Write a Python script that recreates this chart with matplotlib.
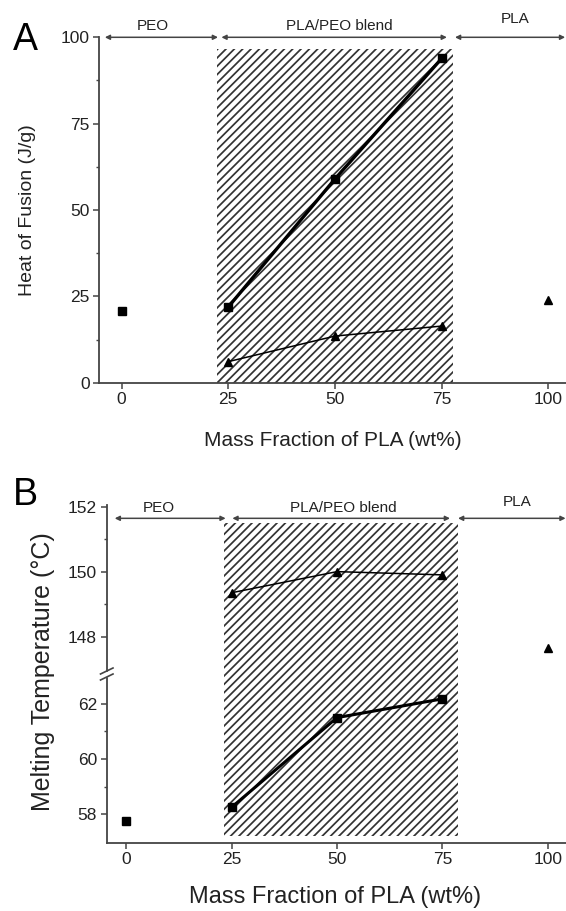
import matplotlib
matplotlib.use('Agg')
import matplotlib.pyplot as plt
from matplotlib.patches import Rectangle
from matplotlib.ticker import MultipleLocator, FixedLocator

plt.rcParams['font.family'] = ['Liberation Sans', 'DejaVu Sans']
plt.rcParams['hatch.linewidth'] = 1.25

# ---------------- data ----------------
region_labels = ['PEO', 'PLA/PEO blend', 'PLA']
xticks = [0, 25, 50, 75, 100]

# Panel A: heat of fusion (J/g)
A_sq_x = [0, 25, 50, 75]
A_sq_y = [20.7, 21.9, 59.0, 93.9]
A_tri_x = [25, 50, 75, 100]
A_tri_y = [6.1, 13.5, 16.4, 23.9]
A_yticks = [0, 25, 50, 75, 100]

# Panel B: melting temperature (degC)
B_tri_x = [25, 50, 75, 100]
B_tri_y = [149.35, 150.0, 149.9, 147.66]
B_sq_x = [0, 25, 50, 75]
B_sq_y = [57.77, 58.25, 61.5, 62.18]
B_upper_yticks = [148, 150, 152]
B_lower_yticks = [58, 60, 62]

W, H = 566, 911
fig = plt.figure(figsize=(W / 100, H / 100), dpi=100)

HATCH = '////'


def fx(px):
    return px / W


def fy(py):
    return 1 - py / H


AX_COLOR = '#444444'


def style_axis(ax, show_bottom=True):
    for s in ['top', 'right']:
        ax.spines[s].set_visible(False)
    for s in ['left', 'bottom']:
        ax.spines[s].set_color(AX_COLOR)
        ax.spines[s].set_linewidth(1.3)
    ax.tick_params(direction='out', length=4, width=1.1, color=AX_COLOR,
                   labelsize=12.5, pad=3)
    ax.tick_params(which='minor', direction='out', length=2.5, width=1.0,
                   color=AX_COLOR)
    if not show_bottom:
        ax.spines['bottom'].set_visible(False)
        ax.tick_params(axis='x', which='both', bottom=False, labelbottom=False)
    ax.set_facecolor('none')


def region_arrows(ax, y_arrow, bounds, text_pos, fs=11):
    for (x0, x1) in bounds:
        ax.annotate('', xy=(x0, y_arrow), xytext=(x1, y_arrow),
                    arrowprops=dict(arrowstyle='<|-|>', color=AX_COLOR, lw=1.1,
                                    mutation_scale=7, shrinkA=0, shrinkB=0),
                    annotation_clip=False)
    for lab, (tx, ty) in zip(region_labels, text_pos):
        ax.text(tx, ty, lab, ha='center', va='center', fontsize=fs,
                color='#222222', clip_on=False)


# ---------------- Panel A ----------------
axA = fig.add_axes([fx(99.3), fy(382.7), 1 - fx(99.3), (382.7 - 37.3) / H])
axA.set_xlim(-5.2, 104.1)
axA.set_ylim(0, 100)
style_axis(axA)
axA.set_xticks(xticks)
axA.set_yticks(A_yticks)
axA.yaxis.set_minor_locator(MultipleLocator(12.5))
axA.add_patch(Rectangle((22.3, 0), 77.6 - 22.3, 96.7, facecolor='none',
                        edgecolor='#333333', hatch=HATCH, lw=0, zorder=1))
axA.plot(A_sq_x[1:], A_sq_y[1:], color='black', lw=2.4, zorder=3)
axA.plot(A_sq_x, A_sq_y, ls='none', marker='s', ms=5.5, color='black', zorder=4)
axA.plot(A_tri_x[:3], A_tri_y[:3], color='black', lw=1.1, zorder=3)
axA.plot(A_tri_x, A_tri_y, ls='none', marker='^', ms=6, color='black', zorder=4)
for t in axA.get_xticklabels() + axA.get_yticklabels():
    t.set_color('#222222')
region_arrows(axA, 100,
              [(-3.9, 22.6), (23.4, 76.2), (78.1, 103.9)],
              [(7.4, 103.4), (51, 103.4), (92.2, 105.4)])

fig.text(fx(25), fy(40), 'A', fontsize=27, ha='center', va='center')
fig.text(fx(28), fy(210), 'Heat of Fusion (J/g)', rotation=90, fontsize=14,
         ha='center', va='center', color='#222222')
fig.text(fx(333), fy(440), 'Mass Fraction of PLA (wt%)', fontsize=15,
         ha='center', va='center', color='#222222')

# ---------------- Panel B ----------------
bx_left = fx(106.7)
axBu = fig.add_axes([bx_left, fy(674), 1 - bx_left, (674 - 505) / H])
axBl = fig.add_axes([bx_left, fy(842.7), 1 - bx_left, (842.7 - 674) / H])
for ax in (axBu, axBl):
    ax.set_xlim(-4.6, 104.3)
axBu.set_ylim(146.85, 152.05)
axBl.set_ylim(56.97, 63.08)
style_axis(axBu, show_bottom=False)
style_axis(axBl)
axBu.set_yticks(B_upper_yticks)
axBu.yaxis.set_minor_locator(FixedLocator([149, 151]))
axBl.set_yticks(B_lower_yticks)
axBl.yaxis.set_minor_locator(FixedLocator([59, 61]))
axBl.set_xticks(xticks)
for ax in (axBu, axBl):
    for t in ax.get_xticklabels() + ax.get_yticklabels():
        t.set_color('#222222')

axBu.add_patch(Rectangle((23.3, 146.85), 78.6 - 23.3, 151.5 - 146.85,
                         facecolor='none', edgecolor='#333333', hatch=HATCH,
                         lw=0, zorder=1, clip_on=False))
axBl.add_patch(Rectangle((23.3, 57.2), 78.6 - 23.3, 63.08 - 57.2,
                         facecolor='none', edgecolor='#333333', hatch=HATCH,
                         lw=0, zorder=1))

axBu.plot(B_tri_x[:3], B_tri_y[:3], color='black', lw=1.1, zorder=3)
axBu.plot(B_tri_x, B_tri_y, ls='none', marker='^', ms=5.5, color='black', zorder=4)
axBl.plot(B_sq_x[1:], B_sq_y[1:], color='black', lw=2.2, zorder=3)
axBl.plot(B_sq_x, B_sq_y, ls='none', marker='s', ms=5.5, color='black', zorder=4)

region_arrows(axBu, 151.64,
              [(-2.7, 23.6), (25.2, 76.8), (78.7, 104.2)],
              [(7.8, 151.96), (51.4, 151.96), (92.6, 152.15)])

# break marks on the left spine
fig.add_artist(Rectangle((fx(104), fy(676)), fx(5.5), 4 / H, color='white',
                         transform=fig.transFigure, zorder=2))
for dy in (-3, 3):
    fig.add_artist(plt.Line2D([fx(100.5), fx(113)],
                              [fy(674 + dy + 3), fy(674 + dy - 3)],
                              color=AX_COLOR, lw=1.2, zorder=3))

fig.text(fx(25), fy(495), 'B', fontsize=27, ha='center', va='center')
fig.text(fx(43), fy(672), 'Melting Temperature (\u00b0C)', rotation=90,
         fontsize=18, ha='center', va='center', color='#222222')
fig.text(fx(335), fy(897), 'Mass Fraction of PLA (wt%)', fontsize=17,
         ha='center', va='center', color='#222222')

fig.savefig('out.png', dpi=100)
